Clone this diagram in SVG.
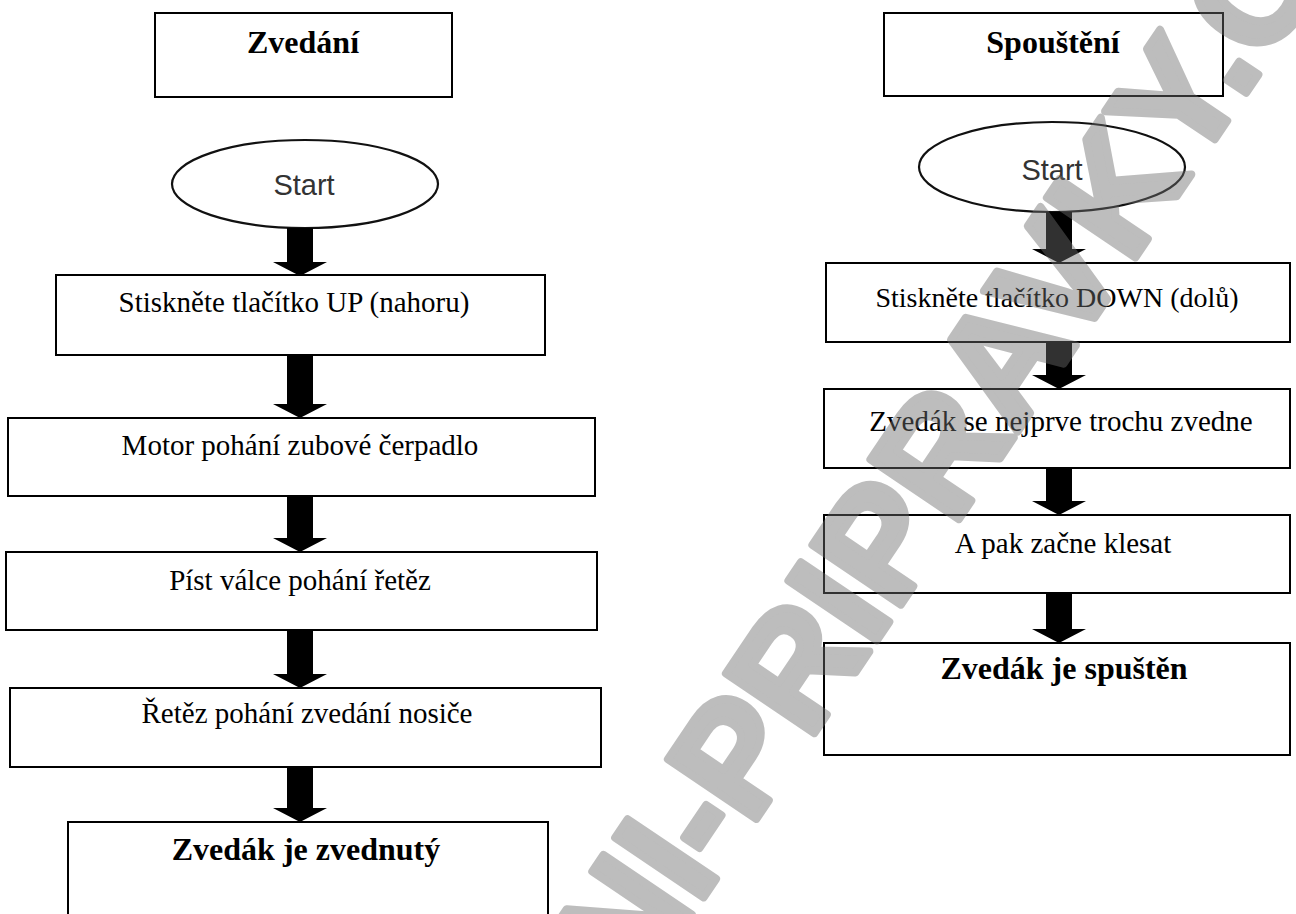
<svg xmlns="http://www.w3.org/2000/svg" width="1296" height="914" viewBox="0 0 1296 914">
  <style>
    .box { fill: #ffffff; stroke: #000000; stroke-width: 2; }
    .oval { fill: #ffffff; stroke: #111111; stroke-width: 2.2; }
    .t { font-family: "Liberation Serif", "Times New Roman", serif; font-size: 29px; fill: #000000; text-anchor: middle; }
    .tb { font-family: "Liberation Serif", "Times New Roman", serif; font-size: 32px; font-weight: bold; fill: #000000; text-anchor: middle; }
    .st { font-family: "Liberation Sans", Arial, sans-serif; font-size: 29px; fill: #333333; text-anchor: middle; }
    .arrow { fill: #000000; stroke: none; }
    .wm { font-family: "Liberation Sans", Arial, sans-serif; font-size: 155px; font-weight: bold; fill: #6e6e6e; stroke: #6e6e6e; stroke-width: 8; stroke-linejoin: round; }
  </style>
  <rect x="0" y="0" width="1296" height="914" fill="#ffffff"/>

  <!-- Left column: Zvedání -->
  <g id="title-left">
    <rect class="box" x="155" y="13" width="297" height="84"/>
    <text class="tb" x="303" y="53">Zvedání</text>
  </g>
  <g id="start-left">
    <ellipse class="oval" cx="305" cy="184" rx="133" ry="44"/>
    <text class="st" x="304" y="195">Start</text>
  </g>
  <g id="l1">
    <rect class="box" x="56" y="275" width="489" height="80"/>
    <text class="t" x="294" y="312">Stiskněte tlačítko UP (nahoru)</text>
  </g>
  <g id="l2">
    <rect class="box" x="8" y="418" width="587" height="78"/>
    <text class="t" x="300" y="455">Motor pohání zubové čerpadlo</text>
  </g>
  <g id="l3">
    <rect class="box" x="6" y="552" width="591" height="78"/>
    <text class="t" x="300" y="590">Píst válce pohání řetěz</text>
  </g>
  <g id="l4">
    <rect class="box" x="10" y="688" width="591" height="79"/>
    <text class="t" x="307" y="723">Řetěz pohání zvedání nosiče</text>
  </g>
  <g id="l5">
    <rect class="box" x="68" y="822" width="480" height="110"/>
    <text class="tb" x="306" y="860">Zvedák je zvednutý</text>
  </g>

  <!-- Right column: Spouštění -->
  <g id="title-right">
    <rect class="box" x="884" y="13" width="339" height="83"/>
    <text class="tb" x="1053" y="53">Spouštění</text>
  </g>
  <g id="start-right">
    <ellipse class="oval" cx="1052" cy="167" rx="133" ry="45"/>
    <text class="st" x="1052" y="180">Start</text>
  </g>
  <g id="r1">
    <rect class="box" x="826" y="263" width="464" height="79"/>
    <text class="t" x="1057" y="307" style="font-size:28px">Stiskněte tlačítko DOWN (dolů)</text>
  </g>
  <g id="r2">
    <rect class="box" x="824" y="389" width="466" height="79"/>
    <text class="t" x="1061" y="431">Zvedák se nejprve trochu zvedne</text>
  </g>
  <g id="r3">
    <rect class="box" x="824" y="515" width="466" height="78"/>
    <text class="t" x="1063" y="553">A pak začne klesat</text>
  </g>
  <g id="r4">
    <rect class="box" x="824" y="643" width="466" height="112"/>
    <text class="tb" x="1064" y="679">Zvedák je spuštěn</text>
  </g>

  <!-- Connectors -->
  <g id="connectors">
    <path class="arrow" d="M287,228 H313 V262 H327 L300,276 L273,262 H287 Z"/>
    <path class="arrow" d="M287,356 H313 V404 H327 L300,418 L273,404 H287 Z"/>
    <path class="arrow" d="M287,497 H313 V538 H327 L300,552 L273,538 H287 Z"/>
    <path class="arrow" d="M287,631 H313 V674 H327 L300,688 L273,674 H287 Z"/>
    <path class="arrow" d="M287,768 H313 V808 H327 L300,822 L273,808 H287 Z"/>
    <path class="arrow" d="M1046,212 H1072 V249 H1086 L1059,263 L1032,249 H1046 Z"/>
    <path class="arrow" d="M1046,343 H1072 V375 H1086 L1059,389 L1032,375 H1046 Z"/>
    <path class="arrow" d="M1046,469 H1072 V501 H1086 L1059,515 L1032,501 H1046 Z"/>
    <path class="arrow" d="M1046,594 H1072 V629 H1086 L1059,643 L1032,629 H1046 Z"/>
  </g>

  <!-- Watermark -->
  <g id="watermark" opacity="0.45">
    <text class="wm" transform="translate(722,870) rotate(-56)" x="-586" y="0">SKOLNI-PRIPRAVKY.CZ</text>
  </g>
</svg>
